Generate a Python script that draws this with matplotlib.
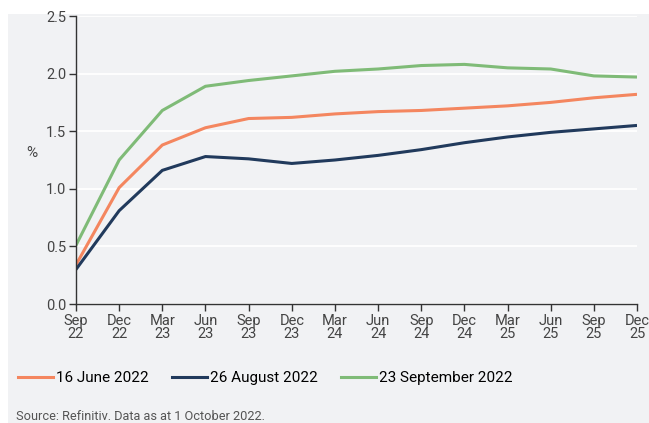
import matplotlib.pyplot as plt
from matplotlib.patches import Rectangle
from matplotlib.lines import Line2D

plt.rcParams['font.family'] = ['Roboto', 'DejaVu Sans']

quarters = ['Sep\n22', 'Dec\n22', 'Mar\n23', 'Jun\n23', 'Sep\n23', 'Dec\n23', 'Mar\n24',
            'Jun\n24', 'Sep\n24', 'Dec\n24', 'Mar\n25', 'Jun\n25', 'Sep\n25', 'Dec\n25']
june = [0.34, 1.01, 1.38, 1.53, 1.61, 1.62, 1.65, 1.67, 1.68, 1.70, 1.72, 1.75, 1.79, 1.82]
august = [0.30, 0.81, 1.16, 1.28, 1.26, 1.22, 1.25, 1.29, 1.34, 1.40, 1.45, 1.49, 1.52, 1.55]
september = [0.51, 1.25, 1.68, 1.89, 1.94, 1.98, 2.02, 2.04, 2.07, 2.08, 2.05, 2.04, 1.98, 1.97]

labels = ['16 June 2022', '26 August 2022', '23 September 2022']
colors = ['#f4865f', '#213a5c', '#7fbb77']
bg = '#f1f2f4'

W, H = 649, 423
fig = plt.figure(figsize=(W / 100, H / 100), dpi=100, facecolor='white')
fig.patches.append(Rectangle((8 / W, 0), 1 - 8 / W, 1 - 14 / H, transform=fig.transFigure,
                             facecolor=bg, edgecolor='none', zorder=-10))

ax = fig.add_axes([76 / W, 1 - 304 / H, (637 - 76) / W, (304 - 16) / H])
ax.set_facecolor(bg)

x = range(len(quarters))
for series, lab, c in zip([june, august, september], labels, colors):
    ax.plot(x, series, color=c, lw=2.2, label=lab, solid_capstyle='butt')

ax.set_xlim(0, len(quarters) - 1)
ax.set_ylim(0, 2.5)
ax.set_yticks([0, 0.5, 1.0, 1.5, 2.0, 2.5])
ax.set_yticklabels(['0.0', '0.5', '1.0', '1.5', '2.0', '2.5'])
ax.set_xticks(list(x))
ax.set_xticklabels(quarters, linespacing=0.95, multialignment='center')
ax.grid(axis='y', color='white', lw=1.3)
ax.set_axisbelow(True)
for s in ['top', 'right']:
    ax.spines[s].set_visible(False)
for s in ['left', 'bottom']:
    ax.spines[s].set_color('#333333')
    ax.spines[s].set_linewidth(1.0)
ax.tick_params(axis='both', colors='#333333', labelcolor='#444444', labelsize=10.5,
               length=5, width=1.0, pad=2)
ax.set_ylabel('%', rotation=0, fontsize=11, color='#444444')
ax.yaxis.set_label_coords(-0.078, 0.5)

handles = [Line2D([], [], color=c, lw=2.2) for c in colors]
fig.legend(handles, labels, loc='center left', bbox_to_anchor=(18 / W, 1 - 378 / H),
           ncol=3, frameon=False, fontsize=11, handlelength=2.3, handletextpad=0.2,
           columnspacing=1.5, borderpad=0, borderaxespad=0)

fig.text(16 / W, 1 - 416 / H, 'Source: Refinitiv. Data as at 1 October 2022.',
         fontsize=9.2, color='#555555', va='center')

fig.savefig('out.png', dpi=100, facecolor='white')
